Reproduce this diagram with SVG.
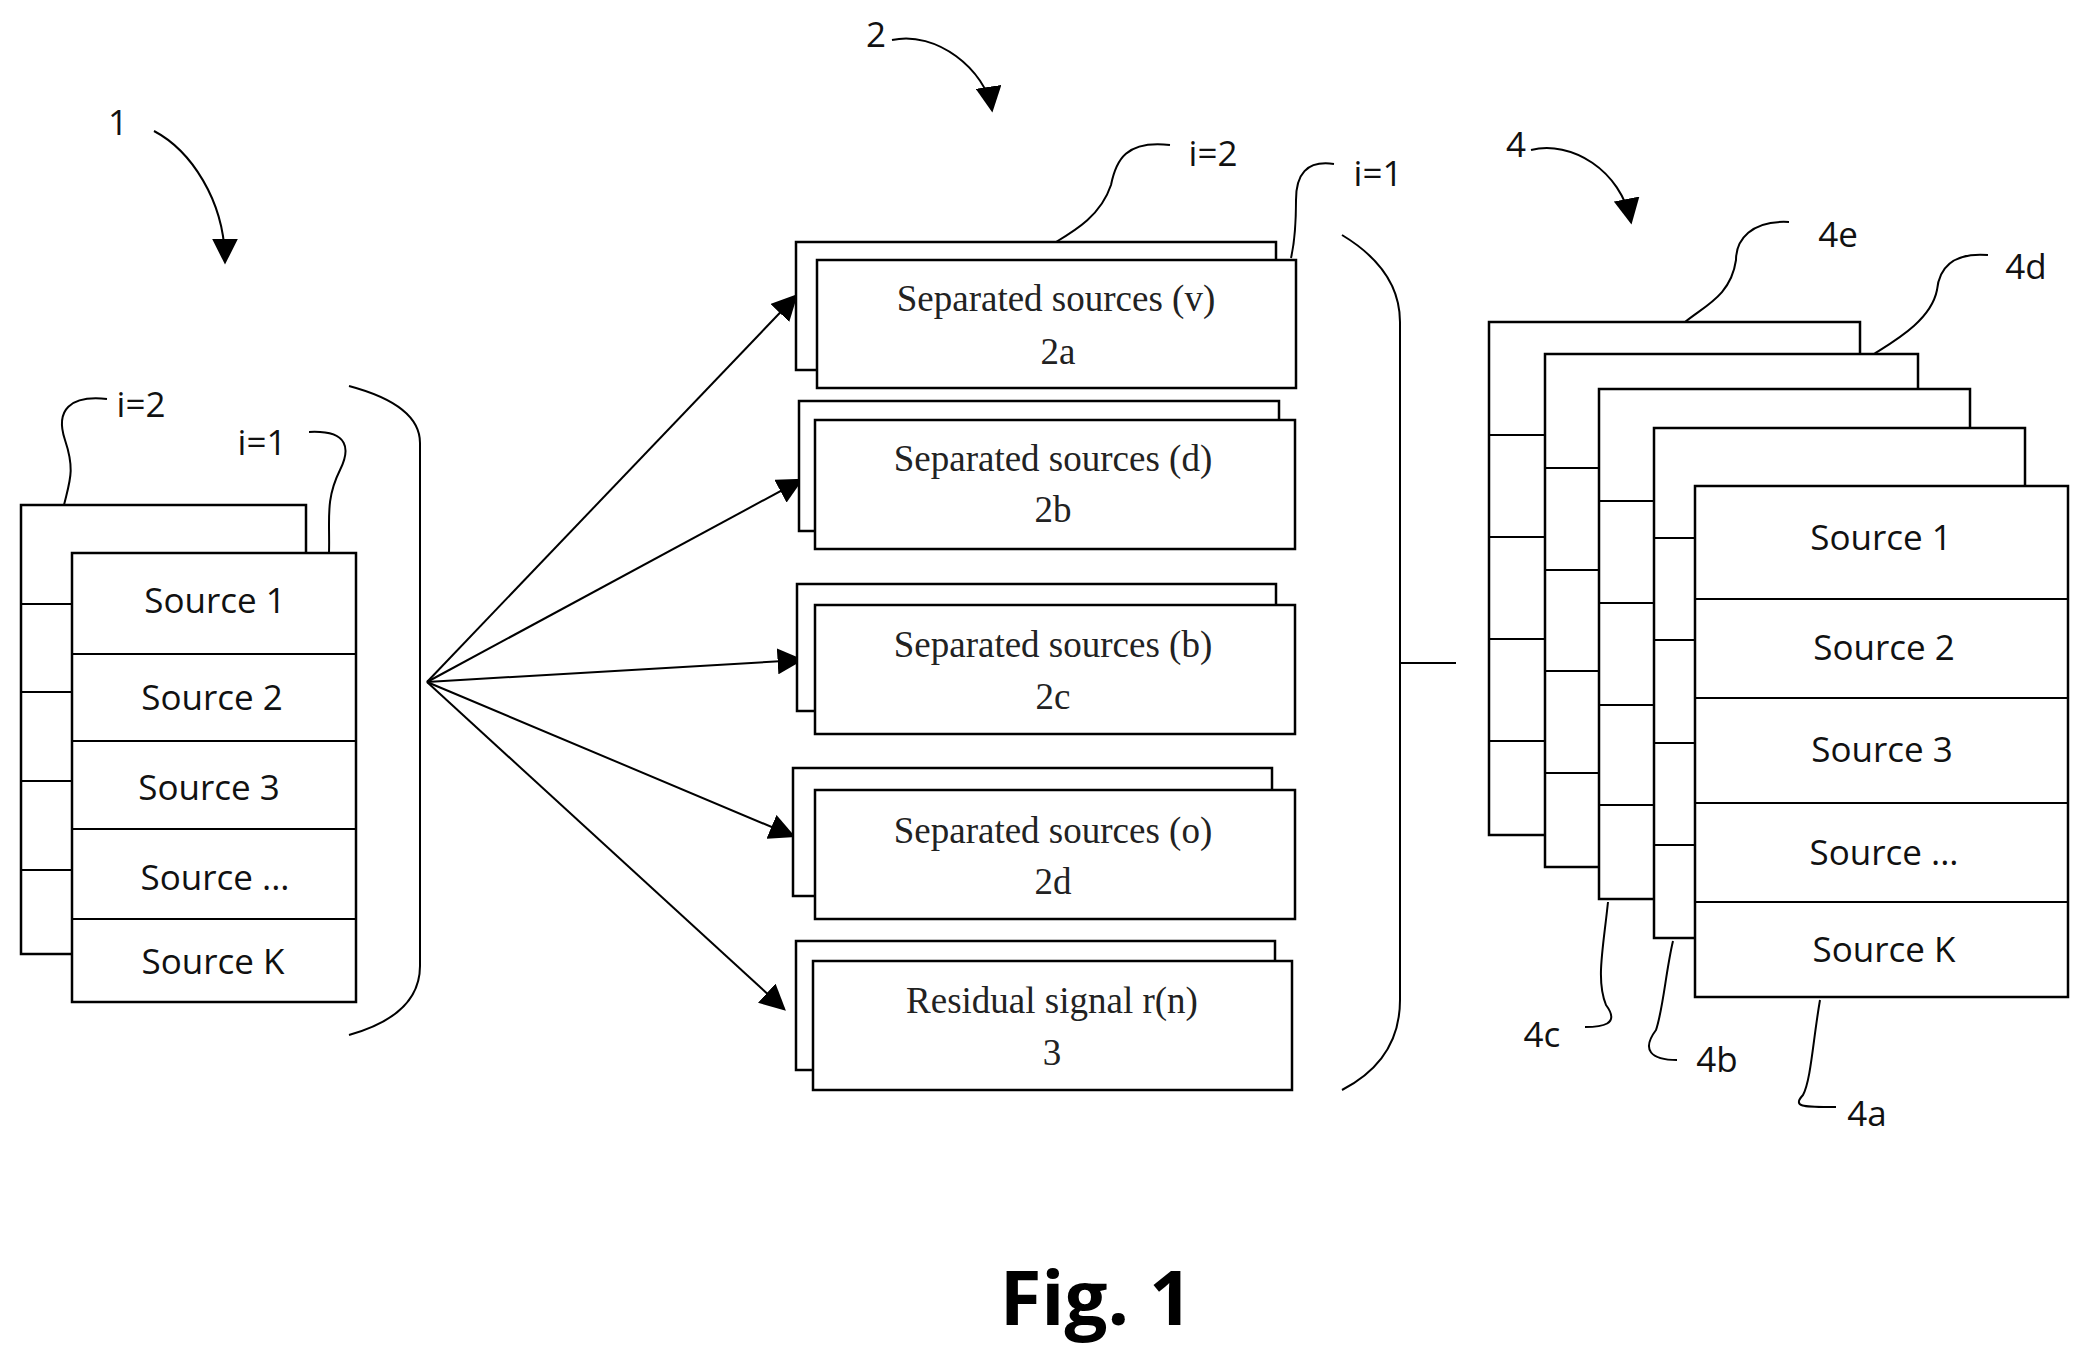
<svg xmlns="http://www.w3.org/2000/svg" width="2094" height="1360" viewBox="0 0 2094 1360">
<style>
.b{fill:#fff;stroke:#000;stroke-width:2.5}
.l{fill:none;stroke:#000;stroke-width:2}
.s{font-family:"Open Sans","DejaVu Sans",sans-serif;font-size:35px;text-anchor:middle;fill:#111}
.r{font-family:"Liberation Serif",serif;font-size:37px;text-anchor:middle;fill:#222}
</style>
<defs><marker id="A" viewBox="0 0 10 10" refX="9" refY="5" markerWidth="26" markerHeight="26" markerUnits="userSpaceOnUse" orient="auto"><path d="M0,0L10,5L0,10z"/></marker></defs>
<g id="connectors" class="l">
<path d="M154,131 C190,150 225,200 225,262" marker-end="url(#A)"/>
<path d="M892,40 C936,30 986,70 992,110" marker-end="url(#A)"/>
<path d="M1531,150 C1571,140 1621,170 1631,222" marker-end="url(#A)"/>
<path d="M427,682L796,296" marker-end="url(#A)"/>
<path d="M427,682L801,480" marker-end="url(#A)"/>
<path d="M427,682L801,660" marker-end="url(#A)"/>
<path d="M427,682L793,836" marker-end="url(#A)"/>
<path d="M427,682L784,1009" marker-end="url(#A)"/>
<path d="M349,386 Q420,405 420,443 L420,966 Q420,1015 349,1035"/>
<path d="M1342,235 Q1400,270 1400,322 L1400,1000 Q1400,1060 1342,1090"/>
<path d="M1400,663H1456"/>
</g>
<g id="n1">
<rect class="b" x="21" y="505" width="285" height="449"/>
<path class="l" d="M21,604H72M21,692H72M21,781H72M21,870H72"/>
<rect class="b" x="72" y="553" width="284" height="449"/>
<path class="l" d="M72,654H356M72,741H356M72,829H356M72,919H356"/>
<text class="s" x="215" y="613">Source 1</text><text class="s" x="212" y="710">Source 2</text><text class="s" x="209" y="800">Source 3</text><text class="s" x="215" y="890">Source ...</text><text class="s" x="213" y="974">Source K</text>
<path class="l" d="M107,399 C70,395 55,410 65,440 C75,470 70,480 64,505"/>
<path class="l" d="M309,432 C350,430 350,450 340,470 C325,500 330,520 329,553"/>
<text class="s" x="141" y="417">i=2</text><text class="s" x="262" y="455">i=1</text>
<text class="s" x="118" y="135">1</text>
</g>
<g id="n2" transform="translate(-4,0)">
<rect class="b" x="800" y="242" width="480" height="128"/><rect class="b" x="821" y="260" width="479" height="128"/>
<text class="r" x="1060" y="311">Separated sources (v)</text><text class="r" x="1062" y="364">2a</text>
<rect class="b" x="803" y="401" width="480" height="130"/><rect class="b" x="819" y="420" width="480" height="129"/>
<text class="r" x="1057" y="471">Separated sources (d)</text><text class="r" x="1057" y="522">2b</text>
<rect class="b" x="801" y="584" width="479" height="127"/><rect class="b" x="819" y="605" width="480" height="129"/>
<text class="r" x="1057" y="657">Separated sources (b)</text><text class="r" x="1057" y="709">2c</text>
<rect class="b" x="797" y="768" width="479" height="128"/><rect class="b" x="819" y="790" width="480" height="129"/>
<text class="r" x="1057" y="843">Separated sources (o)</text><text class="r" x="1057" y="894">2d</text>
<rect class="b" x="800" y="941" width="479" height="129"/><rect class="b" x="817" y="961" width="479" height="129"/>
<text class="r" x="1056" y="1013">Residual signal r(n)</text><text class="r" x="1056" y="1065">3</text>
<path class="l" d="M1174,145 C1130,140 1120,160 1115,185 C1105,215 1080,230 1060,242"/>
<path class="l" d="M1338,164 C1310,160 1300,175 1300,200 C1300,230 1298,245 1295,258"/>
<text class="s" x="1217" y="166">i=2</text><text class="s" x="1382" y="186">i=1</text>
<text class="s" x="880" y="47">2</text>
</g>
<g id="n4" transform="translate(-9,0)">
<rect class="b" x="1498" y="322" width="371" height="513"/>
<path class="l" d="M1498,435H1554M1498,537H1554M1498,639H1554M1498,741H1554"/>
<rect class="b" x="1554" y="354" width="373" height="513"/>
<path class="l" d="M1554,468H1608M1554,570H1608M1554,671H1608M1554,773H1608"/>
<rect class="b" x="1608" y="389" width="371" height="510"/>
<path class="l" d="M1608,501H1663M1608,603H1663M1608,705H1663M1608,805H1663"/>
<rect class="b" x="1663" y="428" width="371" height="510"/>
<path class="l" d="M1663,538H1704M1663,640H1704M1663,743H1704M1663,845H1704"/>
<rect class="b" x="1704" y="486" width="373" height="511"/>
<path class="l" d="M1704,599H2077M1704,698H2077M1704,803H2077M1704,902H2077"/>
<text class="s" x="1890" y="550">Source 1</text><text class="s" x="1893" y="660">Source 2</text><text class="s" x="1891" y="762">Source 3</text><text class="s" x="1893" y="865">Source ...</text><text class="s" x="1893" y="962">Source K</text>
<path class="l" d="M1798,222 C1760,220 1745,240 1745,260 C1740,295 1715,305 1694,322"/>
<path class="l" d="M1997,255 C1960,252 1948,270 1946,290 C1940,320 1905,340 1883,354"/>
<path class="l" d="M1617,902 C1612,950 1605,980 1615,1005 C1630,1025 1610,1027 1594,1027"/>
<path class="l" d="M1682,941 C1675,970 1672,1010 1665,1030 C1650,1050 1660,1060 1686,1060"/>
<path class="l" d="M1829,1000 C1822,1040 1820,1080 1812,1095 C1800,1108 1815,1107 1845,1107"/>
<text class="s" x="1847" y="247">4e</text><text class="s" x="2035" y="279">4d</text><text class="s" x="1551" y="1047">4c</text><text class="s" x="1726" y="1072">4b</text><text class="s" x="1876" y="1126">4a</text>
<text class="s" x="1525" y="157">4</text>
</g>
<text x="1096" y="1325" font-family="'Open Sans','DejaVu Sans',sans-serif" font-weight="bold" font-size="76" text-anchor="middle">Fig. 1</text>
</svg>
